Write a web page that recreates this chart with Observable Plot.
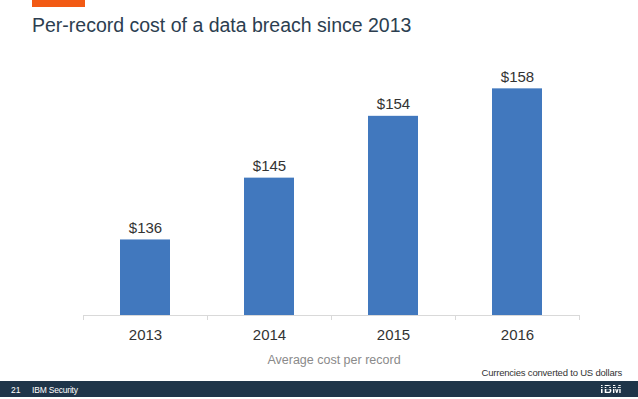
<!DOCTYPE html>
<html>
<head>
<meta charset="utf-8">
<script src="https://cdn.jsdelivr.net/npm/d3@7"></script>
<script src="https://cdn.jsdelivr.net/npm/@observablehq/plot@0.6"></script>
<style>
  html, body { margin: 0; padding: 0; background: #fff; }
  body { width: 638px; height: 399px; position: relative; overflow: hidden; font-family: "Liberation Sans", Arial, sans-serif; }
  #accent { position: absolute; left: 32px; top: 0; width: 53px; height: 7px; background: #f25a14; }
  #title { position: absolute; left: 32px; top: 14px; font-size: 19.5px; color: #2c3e50; white-space: nowrap; }
  #chart { position: absolute; left: 0; top: 45px; }
  #xtitle { position: absolute; left: 234px; width: 200px; top: 353px; text-align: center; font-size: 12.5px; color: #8a8a8a; }
  #note { position: absolute; right: 16px; top: 367px; font-size: 9.5px; color: #333; letter-spacing: -0.2px; }
  #footer { position: absolute; left: 0; top: 381px; width: 638px; height: 16px; background: #1f3549; color: #fff; font-size: 8.5px; }
  #footer .num { position: absolute; left: 11px; top: 4px; }
  #footer .lbl { position: absolute; left: 32px; top: 4px; letter-spacing: -0.2px; }
  #footer .logo { position: absolute; right: 16px; top: 2px; font-weight: bold; font-size: 11px; letter-spacing: 0.5px;
    background: repeating-linear-gradient(to bottom, #fff 0 1.3px, #1f3549 1.3px 2.1px); -webkit-background-clip: text; background-clip: text; color: transparent; }
</style>
</head>
<body>
<div id="accent"></div>
<div id="title">Per-record cost of a data breach since 2013</div>
<div id="chart"></div>
<div id="xtitle">Average cost per record</div>
<div id="note">Currencies converted to US dollars</div>
<div id="footer"><span class="num">21</span><span class="lbl">IBM Security</span><span class="logo">IBM</span></div>
<script>
const years = ["2013", "2014", "2015", "2016"];
const costs = [136, 145, 154, 158];
const valueLabels = ["$136", "$145", "$154", "$158"];
const yDomain = [125, 161.4];

const data = years.map((y, i) => ({year: y, cost: costs[i], label: valueLabels[i]}));
const lastYear = [data[data.length - 1]];

const plot = Plot.plot({
  width: 638,
  height: 300,
  marginLeft: 83,
  marginRight: 59,
  marginTop: 20,
  marginBottom: 30,
  style: {fontFamily: "Liberation Sans, Arial, sans-serif", background: "transparent", overflow: "visible"},
  x: {domain: years, paddingInner: 0.597, paddingOuter: 0.2985, label: null},
  y: {domain: yDomain, axis: null},
  marks: [
    Plot.barY(data, {x: "year", y1: yDomain[0], y2: "cost", fill: "#4178be"}),
    Plot.ruleY([yDomain[0]], {stroke: "#d9d9d9", strokeWidth: 1}),
    Plot.ruleX(data, {x: "year", y1: yDomain[0], y2: yDomain[0], insetBottom: -5, dx: -62, stroke: "#d9d9d9"}),
    Plot.ruleX(lastYear, {x: "year", y1: yDomain[0], y2: yDomain[0], insetBottom: -5, dx: 62, stroke: "#d9d9d9"}),
    Plot.text(data, {x: "year", y: "cost", text: "label", dy: -12, fontSize: 15, fill: "#333"}),
    Plot.axisX({tickSize: 0, tickPadding: 14, fontSize: 15, color: "#333", label: null})
  ]
});
document.getElementById("chart").appendChild(plot);
</script>
</body>
</html>
